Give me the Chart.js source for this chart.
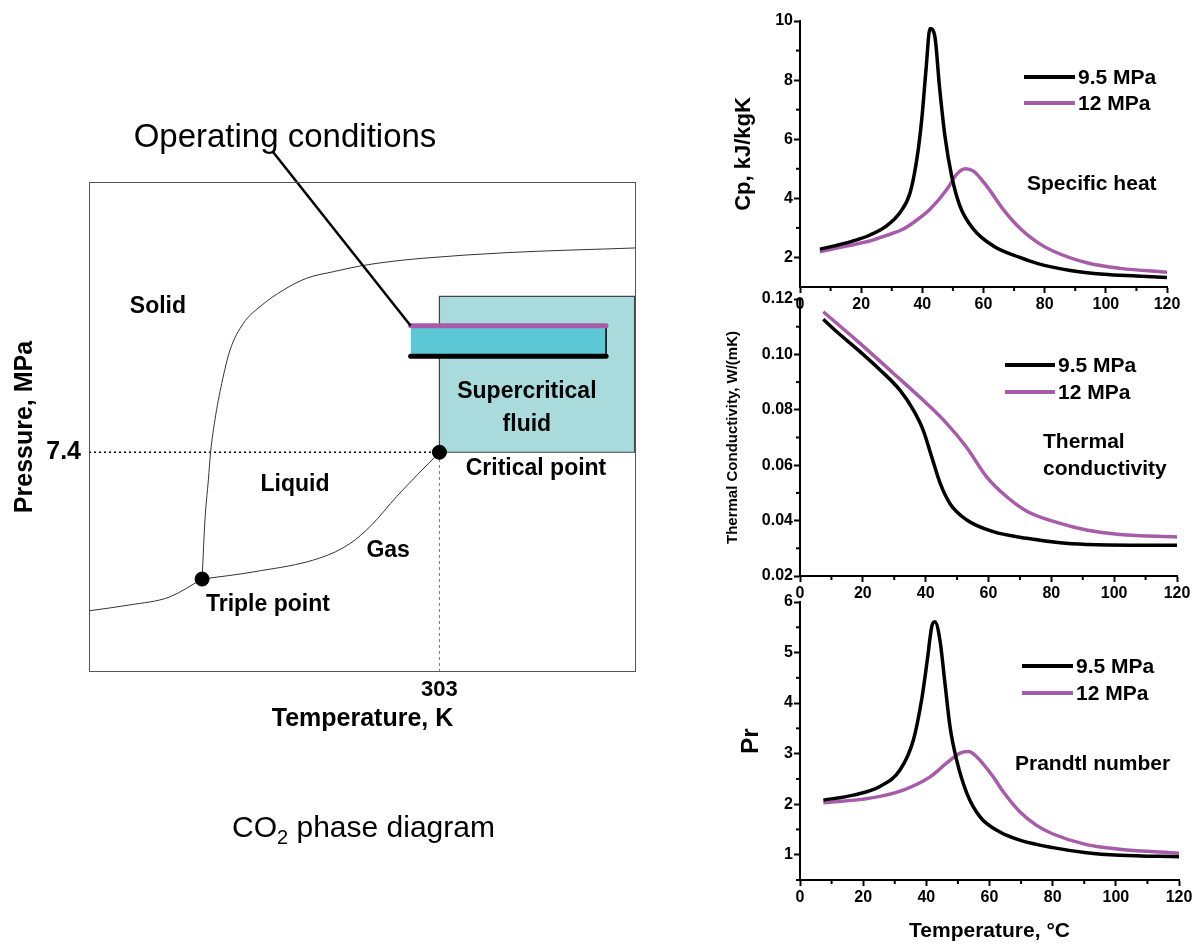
<!DOCTYPE html>
<html>
<head>
<meta charset="utf-8">
<script src="https://cdn.jsdelivr.net/npm/chart.js@4.4.1/dist/chart.umd.min.js"></script>
<style>
  body { margin: 0; background: #fff; }
  #wrap { position: relative; width: 1195px; height: 944px; overflow: hidden; }
  canvas { position: absolute; }
</style>
</head>
<body>
<div id="wrap">
  <canvas id="phase"></canvas>
  <canvas id="cp"></canvas>
  <canvas id="tc"></canvas>
  <canvas id="pr"></canvas>
</div>
<script>
'use strict';

// series names used by all three property charts
var seriesNames = ['9.5 MPa', '12 MPa'];

// specific heat, kJ/kgK
var cpTemp95 = [6.5, 12, 17.4, 22.9, 28.3, 32.7, 36.0, 38.2, 39.8, 41.2, 42.5, 44.1, 45.6, 47.4, 49.6, 52.3, 56.7, 63.2, 71.9, 77.5, 88.4, 99.3, 110, 120];
var cp95 = [2.28, 2.41, 2.56, 2.76, 3.07, 3.52, 4.19, 5.32, 6.66, 8.35, 9.75, 9.47, 7.79, 6.1, 4.75, 3.74, 2.96, 2.39, 2.0, 1.80, 1.56, 1.43, 1.37, 1.32];
var cpTemp12 = [6.5, 14, 22.9, 28.4, 33.8, 38, 42.5, 48, 51.2, 54, 56.7, 61, 66.5, 72, 77.5, 82.9, 93.8, 104.7, 120];
var cp12 = [2.19, 2.36, 2.56, 2.75, 2.96, 3.25, 3.63, 4.30, 4.81, 5.0, 4.92, 4.42, 3.62, 2.98, 2.52, 2.21, 1.82, 1.63, 1.50];

// thermal conductivity, W/(mK)
var kTemp95 = [7.4, 11.7, 19.1, 25.5, 31.8, 36.1, 39.2, 41.9, 44.6, 47.7, 53.1, 61.5, 72.2, 82.8, 91.2, 105, 120];
var k95 = [0.1127, 0.1082, 0.1010, 0.0944, 0.0871, 0.0799, 0.0727, 0.0631, 0.0535, 0.0462, 0.0402, 0.0360, 0.0336, 0.0320, 0.0314, 0.0311, 0.0311];
var kTemp12 = [7.4, 19.1, 29.7, 40.3, 46.6, 53, 59.4, 65.8, 72.2, 82.8, 91.2, 101.8, 120];
var k12 = [0.1154, 0.1040, 0.0932, 0.0823, 0.0752, 0.0665, 0.0558, 0.0486, 0.0434, 0.0390, 0.0366, 0.0350, 0.0341];

// Prandtl number
var prTemp95 = [7.4, 16.9, 25.3, 31.7, 35.9, 38.5, 40.3, 41.7, 42.7, 44.3, 45.9, 47.5, 49.6, 52.8, 57.0, 63.3, 69.6, 80.1, 90.7, 101.2, 120];
var pr95 = [2.08, 2.18, 2.35, 2.68, 3.27, 4.06, 4.85, 5.51, 5.61, 5.25, 4.39, 3.53, 2.87, 2.22, 1.75, 1.45, 1.29, 1.14, 1.04, 0.99, 0.96];
var prTemp12 = [7.4, 22.2, 32.7, 41.2, 46.4, 50.7, 53.3, 55.9, 61.2, 64.3, 69.6, 74.9, 80.1, 90.7, 101.2, 120];
var pr12 = [2.03, 2.12, 2.28, 2.54, 2.81, 3.01, 3.04, 2.94, 2.54, 2.25, 1.85, 1.58, 1.41, 1.20, 1.11, 1.03];

// tick values
var tempTicks = [0, 20, 40, 60, 80, 100, 120];
var tempMinor = [10, 30, 50, 70, 90, 110];
var cpTicks = [2, 4, 6, 8, 10];
var cpMinor = [3, 5, 7, 9];
var kTicks = [0.02, 0.04, 0.06, 0.08, 0.10, 0.12];
var kMinor = [0.03, 0.05, 0.07, 0.09, 0.11];
var prTicks = [1, 2, 3, 4, 5, 6];
var prMinor = [0.5, 1.5, 2.5, 3.5, 4.5, 5.5];

// phase diagram (schematic), T in K, P in MPa
var sublimT = [180, 194.4, 208.1, 219.7];
var sublimP = [2.06, 2.26, 2.52, 3.13];
var meltT = [219.7, 220.7, 221.9, 222.7, 224.2, 226.6, 229.5, 234.2, 240.0, 248.2, 256.4, 265.8, 275.1, 285.7, 296.9, 326.4, 372];
var meltP = [3.13, 5.12, 6.47, 7.42, 8.49, 9.72, 10.84, 11.74, 12.30, 12.86, 13.26, 13.48, 13.67, 13.82, 13.93, 14.12, 14.28];
var vapT = [219.7, 237.7, 261.4, 271.7, 279.1, 288, 303];
var vapP = [3.13, 3.37, 3.85, 4.33, 4.94, 5.91, 7.4];
var critT = 303, critP = 7.4;
var tripleT = 219.7, tripleP = 3.13;
var scBoxT = [303, 371.5];
var scBoxP = [7.4, 12.65];
var opT = [292.9, 361.5];
var opP = [10.63, 11.66];
var leaderT = [244.6, 292.9];
var leaderP = [17.51, 11.66];

var purple = '#A65CA8';
Chart.defaults.font.family = '"Liberation Sans", Arial, sans-serif';
Chart.defaults.color = '#000';

function pts(xs, ys) {
  return xs.map(function(x, i) { return {x: x, y: ys[i]}; });
}

function line(ctx, x1, y1, x2, y2) {
  ctx.beginPath();
  ctx.moveTo(x1, y1);
  ctx.lineTo(x2, y2);
  ctx.stroke();
}

// frame, minor ticks, legends and free text
var extras = {
  id: 'extras',
  afterDraw: function(chart, args, opts) {
    var ctx = chart.ctx;
    var area = chart.chartArea;
    ctx.save();
    if (opts.frame) {
      ctx.strokeStyle = opts.frame;
      ctx.lineWidth = 1;
      ctx.strokeRect(area.left + 0.5, area.top + 0.5, area.width - 1, area.height - 1);
    }
    ctx.strokeStyle = '#000';
    ctx.lineWidth = 2;
    (opts.minorX || []).forEach(function(v) {
      var px = chart.scales.x.getPixelForValue(v);
      line(ctx, px, area.bottom, px, area.bottom + 4);
    });
    (opts.minorY || []).forEach(function(v) {
      var py = chart.scales.y.getPixelForValue(v);
      line(ctx, area.left, py, area.left - 4, py);
    });
    ctx.textBaseline = 'middle';
    (opts.legend || []).forEach(function(item) {
      var ds = chart.data.datasets[item.ds];
      ctx.strokeStyle = ds.borderColor;
      ctx.lineWidth = 4;
      line(ctx, item.x, item.y, item.x + item.len, item.y);
      ctx.fillStyle = '#000';
      ctx.textAlign = 'left';
      ctx.font = 'bold 21px "Liberation Sans", Arial, sans-serif';
      ctx.fillText(ds.label, item.x + item.len + 3, item.y + 1);
    });
    (opts.texts || []).forEach(function(t) {
      var x = t.x, y = t.y;
      if (t.data) {
        x = chart.scales.x.getPixelForValue(t.x);
        y = chart.scales.y.getPixelForValue(t.y);
      }
      ctx.fillStyle = '#000';
      ctx.textAlign = t.align || 'center';
      ctx.font = t.font;
      ctx.fillText(t.text, x, y);
    });
    (opts.parts || []).forEach(function(p) {
      var x = p.x;
      ctx.textAlign = 'left';
      ctx.textBaseline = 'alphabetic';
      p.items.forEach(function(it) {
        ctx.font = it.font;
        ctx.fillText(it.text, x, p.y + (it.dy || 0));
        x += ctx.measureText(it.text).width;
      });
    });
    ctx.restore();
  }
};

function place(id, box, area) {
  var c = document.getElementById(id);
  c.width = box.w;
  c.height = box.h;
  c.style.left = box.left + 'px';
  c.style.top = box.top + 'px';
  var bottomPad = area.bottomPad || 0;
  return {
    canvas: c,
    padding: {top: area.t - box.top, right: box.left + box.w - area.r, bottom: bottomPad, left: 0},
    xHeight: box.top + box.h - area.b - bottomPad,
    yWidth: area.l - box.left
  };
}

var tickFont = {size: 16, weight: 'bold'};
var axisGrid = {display: true, drawOnChartArea: false, drawTicks: true, tickLength: 6, tickWidth: 2, tickColor: '#000'};
var axisBorder = {display: true, width: 2, color: '#000'};

function propChart(id, box, area, s, y, extraOpts, xTitle) {
  var p = place(id, box, area);
  extraOpts.minorX = tempMinor;
  extraOpts.minorY = y.minor;
  return new Chart(p.canvas, {
    type: 'line',
    data: {
      datasets: [
        {label: seriesNames[0], data: pts(s[0], s[1]), borderColor: '#000', borderWidth: 3.5,
          pointRadius: 0, cubicInterpolationMode: 'monotone'},
        {label: seriesNames[1], data: pts(s[2], s[3]), borderColor: purple, borderWidth: 3.5,
          pointRadius: 0, cubicInterpolationMode: 'monotone'}
      ]
    },
    options: {
      responsive: false,
      animation: false,
      events: [],
      layout: {padding: p.padding},
      plugins: {legend: {display: false}, tooltip: {enabled: false}, extras: extraOpts},
      scales: {
        x: {
          type: 'linear', min: 0, max: 120,
          afterFit: function(sc) { sc.height = p.xHeight; },
          afterBuildTicks: function(sc) { sc.ticks = tempTicks.map(function(v) { return {value: v}; }); },
          grid: axisGrid, border: axisBorder,
          ticks: {font: tickFont, color: '#000', padding: 2, maxRotation: 0, autoSkip: false,
            callback: function(v) { return String(v); }},
          title: xTitle ? {display: true, text: xTitle, font: {size: 21, weight: 'bold'}, padding: 0, color: '#000'} : {display: false}
        },
        y: {
          type: 'linear', min: y.min, max: y.max,
          afterFit: function(sc) { sc.width = p.yWidth; },
          afterBuildTicks: function(sc) { sc.ticks = y.ticks.map(function(v) { return {value: v}; }); },
          grid: axisGrid, border: axisBorder,
          ticks: {font: tickFont, color: '#000', padding: 1, autoSkip: false,
            callback: function(v) { return y.digits ? v.toFixed(y.digits) : String(v); }},
          title: {display: true, text: y.title, font: {size: y.titleSize, weight: 'bold'},
            padding: {top: y.titlePad, bottom: 0}, color: '#000'}
        }
      }
    },
    plugins: [extras]
  });
}

var noteFont = 'bold 21px "Liberation Sans", Arial, sans-serif';

propChart('cp', {left: 700, top: 0, w: 495, h: 320}, {l: 800, t: 21, r: 1167, b: 287},
  [cpTemp95, cp95, cpTemp12, cp12],
  {min: 1, max: 10, ticks: cpTicks, minor: cpMinor, title: 'Cp, kJ/kgK', titleSize: 22, titlePad: 31},
  {legend: [{ds: 0, x: 324, y: 77, len: 51}, {ds: 1, x: 324, y: 103, len: 51}],
    texts: [{text: 'Specific heat', x: 327, y: 184, font: noteFont, align: 'left'}]});

propChart('tc', {left: 700, top: 285, w: 495, h: 320}, {l: 800, t: 299, r: 1177, b: 576},
  [kTemp95, k95, kTemp12, k12],
  {min: 0.02, max: 0.12, ticks: kTicks, minor: kMinor, digits: 2, title: 'Thermal Conductivity, W/(mK)', titleSize: 15, titlePad: 24},
  {legend: [{ds: 0, x: 305, y: 80, len: 50}, {ds: 1, x: 305, y: 107, len: 50}],
    texts: [{text: 'Thermal', x: 343, y: 157, font: noteFont, align: 'left'},
      {text: 'conductivity', x: 343, y: 184, font: noteFont, align: 'left'}]});

propChart('pr', {left: 700, top: 580, w: 495, h: 364}, {l: 800, t: 602, r: 1179, b: 880},
  [prTemp95, pr95, prTemp12, pr12],
  {min: 0.5, max: 6, ticks: prTicks, minor: prMinor, title: 'Pr', titleSize: 24, titlePad: 37},
  {legend: [{ds: 0, x: 322, y: 86, len: 51}, {ds: 1, x: 322, y: 113, len: 51}],
    texts: [{text: 'Prandtl number', x: 315, y: 184, font: noteFont, align: 'left'}]},
  'Temperature, \u00B0C');

// CO2 phase diagram
var pp = place('phase', {left: 0, top: 0, w: 700, h: 944}, {l: 89, t: 182, r: 636, b: 672, bottomPad: 210});
var regionFont = 'bold 23px "Liberation Sans", Arial, sans-serif';

new Chart(pp.canvas, {
  type: 'line',
  data: {
    datasets: [
      {data: [{x: tripleT, y: tripleP}, {x: critT, y: critP}], showLine: false, pointRadius: 7,
        pointBackgroundColor: '#000', pointBorderColor: '#000', order: 0},
      {data: pts(leaderT, leaderP), borderColor: '#000', borderWidth: 2.5, pointRadius: 0, clip: false, order: 1},
      {data: pts(opT, [opP[1], opP[1]]), borderColor: purple, borderWidth: 5, borderCapStyle: 'round', pointRadius: 0, order: 2},
      {data: pts(opT, [opP[0], opP[0]]), borderColor: '#000', borderWidth: 5, borderCapStyle: 'round', pointRadius: 0, order: 2},
      {data: [{x: opT[1], y: opP[0]}, {x: opT[1], y: opP[1]}], borderColor: '#000', borderWidth: 1.5, pointRadius: 0, order: 3},
      {data: pts(opT, [opP[1], opP[1]]), borderWidth: 0, pointRadius: 0, fill: {value: opP[0]},
        backgroundColor: '#5CC8D5', order: 4},
      {data: pts(sublimT, sublimP), borderColor: '#333', borderWidth: 1, pointRadius: 0, cubicInterpolationMode: 'monotone', order: 5},
      {data: pts(meltT, meltP), borderColor: '#333', borderWidth: 1, pointRadius: 0, cubicInterpolationMode: 'monotone', order: 5},
      {data: pts(vapT, vapP), borderColor: '#333', borderWidth: 1, pointRadius: 0, cubicInterpolationMode: 'monotone', order: 5},
      {data: [{x: 180, y: critP}, {x: critT, y: critP}], borderColor: '#000', borderWidth: 1.5, borderDash: [2, 3], pointRadius: 0, order: 6},
      {data: [{x: critT, y: 0}, {x: critT, y: critP}], borderColor: '#777', borderWidth: 1, borderDash: [3, 3], pointRadius: 0, order: 6},
      {data: [{x: scBoxT[0], y: scBoxP[0]}, {x: scBoxT[0], y: scBoxP[1]}, {x: scBoxT[1], y: scBoxP[1]},
        {x: scBoxT[1], y: scBoxP[0]}, {x: scBoxT[0], y: scBoxP[0]}],
        borderColor: '#444', borderWidth: 1.2, pointRadius: 0, order: 7},
      {data: pts(scBoxT, [scBoxP[1], scBoxP[1]]), borderWidth: 0, pointRadius: 0, fill: {value: scBoxP[0]},
        backgroundColor: '#A9DBDD', order: 8}
    ]
  },
  options: {
    responsive: false,
    animation: false,
    events: [],
    layout: {padding: pp.padding},
    plugins: {
      legend: {display: false},
      tooltip: {enabled: false},
      extras: {
        frame: '#555',
        texts: [
          {text: 'Solid', x: 204.2, y: 12.29, data: true, font: regionFont},
          {text: 'Liquid', x: 252.3, y: 6.30, data: true, font: regionFont},
          {text: 'Gas', x: 285, y: 4.07, data: true, font: regionFont},
          {text: 'Triple point', x: 242.8, y: 2.26, data: true, font: regionFont},
          {text: 'Supercritical', x: 333.7, y: 9.43, data: true, font: regionFont},
          {text: 'fluid', x: 333.7, y: 8.32, data: true, font: regionFont},
          {text: 'Critical point', x: 336.9, y: 6.84, data: true, font: regionFont},
          {text: 'Operating conditions', x: 285, y: 138, font: '33px "Liberation Sans", Arial, sans-serif'}
        ],
        parts: [{x: 232, y: 837, items: [
          {text: 'CO', font: '30px "Liberation Sans", Arial, sans-serif'},
          {text: '2', font: '20px "Liberation Sans", Arial, sans-serif', dy: 7},
          {text: ' phase diagram', font: '30px "Liberation Sans", Arial, sans-serif'}
        ]}]
      }
    },
    scales: {
      x: {
        type: 'linear', min: 180, max: 372,
        afterFit: function(sc) { sc.height = pp.xHeight; },
        afterBuildTicks: function(sc) { sc.ticks = [{value: critT}]; },
        grid: {display: false}, border: {display: false},
        ticks: {font: {size: 22, weight: 'bold'}, color: '#000', padding: -3, maxRotation: 0, autoSkip: false,
          callback: function(v) { return String(v); }},
        title: {display: true, text: 'Temperature, K', font: {size: 25, weight: 'bold'}, padding: 0, color: '#000'}
      },
      y: {
        type: 'linear', min: 0, max: 16.5,
        afterFit: function(sc) { sc.width = pp.yWidth; },
        afterBuildTicks: function(sc) { sc.ticks = [{value: critP}]; },
        grid: {display: false}, border: {display: false},
        ticks: {font: {size: 25, weight: 'bold'}, color: '#000', padding: 0, autoSkip: false,
          callback: function(v) { return String(v); }},
        title: {display: true, text: 'Pressure, MPa', font: {size: 25, weight: 'bold'}, padding: {top: 10, bottom: 0}, color: '#000'}
      }
    }
  },
  plugins: [extras]
});
</script>
</body>
</html>
